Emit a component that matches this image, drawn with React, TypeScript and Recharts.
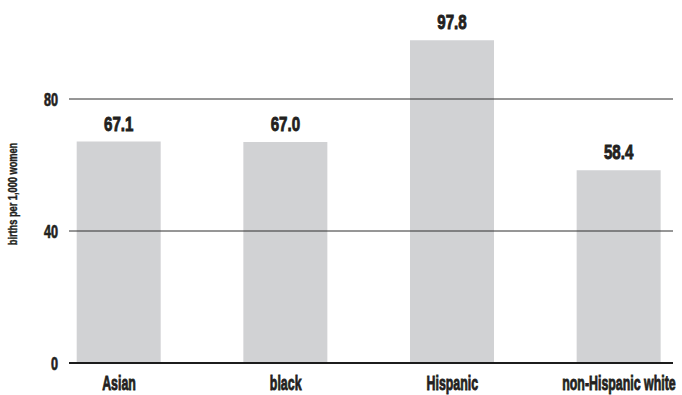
import React from "react";
import {
  BarChart,
  Bar,
  XAxis,
  YAxis,
  ReferenceLine,
  LabelList,
} from "recharts";

const groups = ["Asian", "black", "Hispanic", "non-Hispanic white"];
const birthRates = [67.1, 67.0, 97.8, 58.4];
const yTicks = [0, 40, 80];
const yTitle = "births per 1,000 women";

const data = groups.map((group, i) => ({ group, rate: birthRates[i] }));

const FONT = "'Liberation Sans', Arial, sans-serif";
const INK = "#231f20";

// condensed heavy text: a bold sans squeezed horizontally, with a thin
// outline so the strokes keep their weight after the squeeze
function Squeezed({ x, y, sx, size, weight = 0.5, anchor = "middle", children }: any) {
  return (
    <g transform={`translate(${x},${y}) scale(${sx},1)`}>
      <text
        x={0}
        y={0}
        textAnchor={anchor}
        fontFamily={FONT}
        fontWeight={700}
        fontSize={size}
        fill={INK}
        stroke={INK}
        strokeWidth={weight}
      >
        {children}
      </text>
    </g>
  );
}

function GroupTick({ x, y, payload }: any) {
  return (
    <Squeezed x={x} y={y + 27} sx={0.59} size={21} weight={0.9}>
      {payload.value}
    </Squeezed>
  );
}

function ValueTick({ x, y, payload }: any) {
  return (
    <Squeezed x={x} y={y + 6.5} sx={0.7} size={18} weight={0.7} anchor="end">
      {payload.value}
    </Squeezed>
  );
}

function RateLabel({ x, y, width, value }: any) {
  return (
    <Squeezed x={x + width / 2} y={y - 11} sx={0.72} size={21} weight={0.9}>
      {Number(value).toFixed(1)}
    </Squeezed>
  );
}

function AxisTitle({ viewBox }: any) {
  const cx = viewBox.x + 17;
  const cy = viewBox.y + viewBox.height / 2 - 4;
  return (
    <g transform={`translate(${cx},${cy}) rotate(-90) scale(0.77,1)`}>
      <text
        x={0}
        y={0}
        textAnchor="middle"
        fontFamily={FONT}
        fontWeight={700}
        fontSize={12}
        fill={INK}
        stroke={INK}
        strokeWidth={0.4}
      >
        {yTitle}
      </text>
    </g>
  );
}

export default function App() {
  return (
    <div style={{ position: "absolute", left: 0, top: 0, background: "#fff" }}>
      <BarChart
        width={682}
        height={395}
        data={data}
        margin={{ top: 33, right: 9, left: 0, bottom: 0 }}
      >
        <XAxis
          dataKey="group"
          height={32}
          axisLine={false}
          tickLine={false}
          tickSize={0}
          tickMargin={0}
          interval={0}
          padding={{ left: -33.3, right: -29.3 }}
          tick={<GroupTick />}
        />
        <YAxis
          width={69}
          domain={[0, 100]}
          ticks={yTicks}
          axisLine={false}
          tickLine={false}
          tickSize={0}
          tickMargin={11}
          tick={<ValueTick />}
          label={<AxisTitle />}
        />
        {yTicks
          .filter((t) => t > 0)
          .map((t) => (
            <ReferenceLine key={t} y={t} stroke="#2e2e2e" strokeWidth={1} />
          ))}
        <Bar dataKey="rate" fill="#d1d2d4" barSize={84} isAnimationActive={false}>
          <LabelList dataKey="rate" content={<RateLabel />} />
        </Bar>
        <ReferenceLine y={0} stroke="#1c1c1c" strokeWidth={2} />
      </BarChart>
    </div>
  );
}
